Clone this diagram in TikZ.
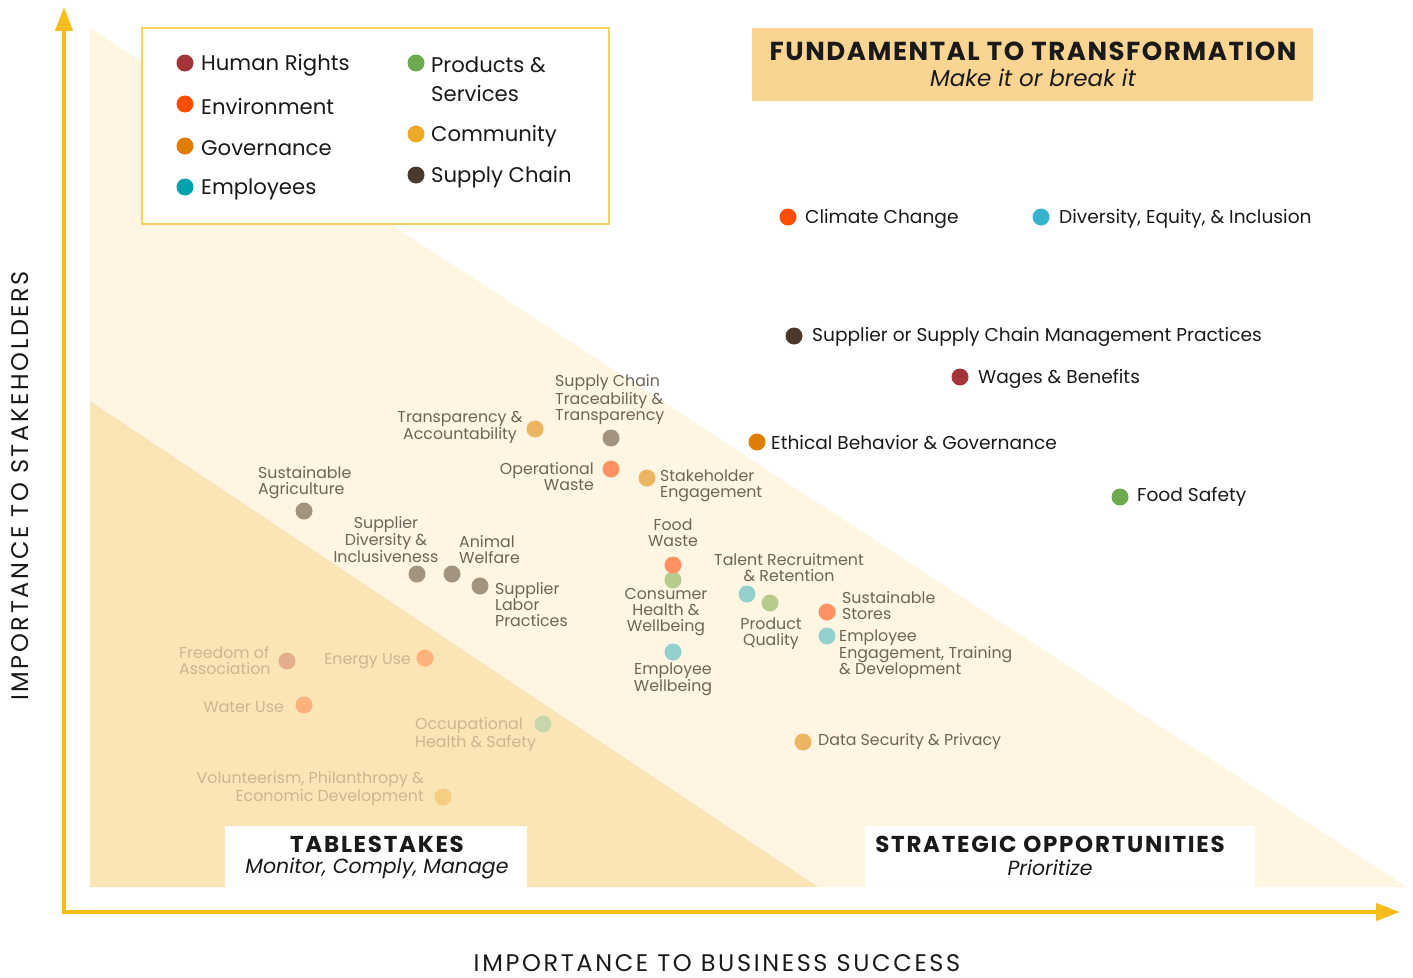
\documentclass[tikz,border=0pt]{standalone}
\usepackage{fontspec}
\setmainfont{Poppins}
\usetikzlibrary{arrows.meta}
\definecolor{axisc}{HTML}{F5BC1C}
\definecolor{legbord}{HTML}{F7D064}
\definecolor{titlebg}{HTML}{FAD592}
\definecolor{lightbg}{HTML}{FEF5E3}
\definecolor{darkbg}{HTML}{FBE5B7}
\definecolor{hr}{HTML}{A4343A}
\definecolor{env}{HTML}{FF4E00}
\definecolor{gov}{HTML}{E07C00}
\definecolor{emp}{HTML}{00A3AD}
\definecolor{emplight}{HTML}{35B2CC}
\definecolor{prod}{HTML}{6BAA4F}
\definecolor{comm}{HTML}{EDA82A}
\definecolor{sc}{HTML}{4B3A2B}
\definecolor{scF}{HTML}{A39480}
\definecolor{commF}{HTML}{EDB562}
\definecolor{envF}{HTML}{FF9163}
\definecolor{prodF}{HTML}{B7CB8C}
\definecolor{empF}{HTML}{93CFCC}
\definecolor{hrL}{HTML}{E3AE8C}
\definecolor{envL}{HTML}{FDB27B}
\definecolor{prodL}{HTML}{C8D6AC}
\definecolor{commL}{HTML}{F6CE80}
\definecolor{txtk}{HTML}{1A1A1A}
\definecolor{txtm}{HTML}{6D6557}
\definecolor{txtl}{HTML}{CDB68C}
\tikzset{
  dot/.style={circle, minimum size=17pt, inner sep=0pt, fill=#1},
  legtxt/.style={inner sep=0pt, text=txtk, font=\fontsize{21.2}{29}\selectfont, align=left},
  toptxt/.style={inner sep=0pt, text=txtk, font=\fontsize{18.6}{20}\selectfont},
  midtxt/.style={inner sep=0pt, text=txtm, font=\fontsize{15.8}{16}\selectfont},
  lowtxt/.style={inner sep=0pt, text=txtl, font=\fontsize{15.8}{16}\selectfont},
  axlab/.style={inner sep=0pt, text=txtk, font=\fontsize{24}{26}\selectfont\addfontfeatures{LetterSpace=11}},
  boxhead/.style={inner sep=0pt, text=txtk, font=\fontsize{23}{25}\selectfont\bfseries\addfontfeatures{LetterSpace=7.5}},
  boxsub/.style={inner sep=0pt, text=txtk, font=\fontsize{20.5}{23}\selectfont\itshape},
  axline/.style={draw=axisc, line width=4pt, -{Triangle[width=17pt,length=24pt]}},
}
\begin{document}
\begin{tikzpicture}[x=1pt,y=-1pt]
\useasboundingbox (0,0) rectangle (1413,977);
% background regions
\fill[lightbg] (90,28) -- (1407,887) -- (90,887) -- cycle;
\fill[darkbg] (90,401) -- (818,887) -- (90,887) -- cycle;
% axes
\coordinate (origin) at (64,912);
\coordinate (ytop) at (64,7);
\coordinate (xend) at (1400,912);
\draw[axline] (64,914) -- (ytop);
\draw[axline] (62,912) -- (xend);
\node[axlab, rotate=90] (ylab) at (20,486) {IMPORTANCE TO STAKEHOLDERS};
\node[axlab] (xlab) at (717,963) {IMPORTANCE TO BUSINESS SUCCESS};
% legend
\node[draw=legbord, line width=1.5pt, fill=white, minimum width=467pt, minimum height=196pt, inner sep=0pt] (legend) at (375.5,126) {};
\node[dot=hr] (lhr) at (185,63) {};
\node[legtxt, anchor=west] (lhrt) at (201,65.5) {Human Rights};
\node[dot=env] (lenv) at (185,104) {};
\node[legtxt, anchor=west] (lenvt) at (201,106.5) {Environment};
\node[dot=gov] (lgov) at (185,146) {};
\node[legtxt, anchor=west] (lgovt) at (201,148.5) {Governance};
\node[dot=emp] (lemp) at (185,187) {};
\node[legtxt, anchor=west] (lempt) at (201,189.5) {Employees};
\node[dot=prod] (lprod) at (416,63) {};
\node[legtxt, anchor=west] (lprodt) at (431,79.5) {Products \&\\Services};
\node[dot=comm] (lcomm) at (416,134) {};
\node[legtxt, anchor=west] (lcommt) at (431,136.5) {Community};
\node[dot=sc] (lsc) at (416,175) {};
\node[legtxt, anchor=west] (lsct) at (431,177.5) {Supply Chain};
% title box
\node[fill=titlebg, minimum width=561pt, minimum height=73pt, inner sep=0pt] (titlebox) at (1032.5,64.5) {};
\node[inner sep=0pt, font=\fontsize{26}{28}\selectfont\bfseries\addfontfeatures{LetterSpace=6}, text=txtk] (titlet) at (1033,51) {FUNDAMENTAL TO TRANSFORMATION};
\node[inner sep=0pt, font=\fontsize{23}{25}\selectfont\itshape, text=txtk] (titles) at (1033,78) {Make it or break it};
% bottom boxes
\node[fill=white, minimum width=302pt, minimum height=61pt, inner sep=0pt] (tsbox) at (376,856.5) {};
\node[boxhead] (tst) at (377,844) {TABLESTAKES};
\node[boxsub] (tss) at (377,868) {Monitor, Comply, Manage};
\node[fill=white, minimum width=390pt, minimum height=61pt, inner sep=0pt] (sobox) at (1060,856.5) {};
\node[boxhead] (sot) at (1050,844) {STRATEGIC OPPORTUNITIES};
\node[boxsub] (sos) at (1050,868) {Prioritize};
% top items
\node[dot=env] (cc) at (788,217) {};
\node[toptxt, anchor=west] (cct) at (805,219) {Climate Change};
\node[dot=emplight] (dei) at (1041,217) {};
\node[toptxt, anchor=west] (deit) at (1059,219) {Diversity, Equity, \& Inclusion};
\node[dot=sc] (scm) at (794,336) {};
\node[toptxt, anchor=west] (scmt) at (812,337) {Supplier or Supply Chain Management Practices};
\node[dot=hr] (wb) at (960,377) {};
\node[toptxt, anchor=west] (wbt) at (978,379) {Wages \& Benefits};
\node[dot=gov] (eth) at (757,442) {};
\node[toptxt, anchor=west] (etht) at (771,443) {Ethical Behavior \& Governance};
\node[dot=prod] (fs) at (1120,497) {};
\node[toptxt, anchor=west] (fst) at (1137,497) {Food Safety};
% middle items
\node[dot=scF] (sctt) at (611,438) {};
\node[midtxt, anchor=west, align=left] (scttt) at (555,399.5) {Supply Chain\\Traceability \&\\Transparency};
\node[dot=commF] (ta) at (535,429) {};
\node[midtxt, anchor=center, align=center] (tat) at (460,427.5) {Transparency \&\\Accountability};
\node[dot=envF] (ow) at (611,469) {};
\node[midtxt, anchor=east, align=right] (owt) at (594,477) {Operational\\Waste};
\node[dot=commF] (se) at (647,478) {};
\node[midtxt, anchor=west, align=left] (set) at (660,485.5) {Stakeholder\\Engagement};
\node[dot=scF] (sa) at (304,511) {};
\node[midtxt, anchor=west, align=left] (sat) at (258,482.5) {Sustainable\\Agriculture};
\node[dot=scF] (sdi) at (417,574) {};
\node[midtxt, anchor=center, align=center] (sdit) at (386,539.5) {Supplier\\Diversity \&\\Inclusiveness};
\node[dot=scF] (aw) at (452,574) {};
\node[midtxt, anchor=west, align=left] (awt) at (459,549.5) {Animal\\Welfare};
\node[dot=scF] (slp) at (480,586) {};
\node[midtxt, anchor=west, align=left] (slpt) at (495,604.5) {Supplier\\Labor\\Practices};
\node[dot=prodF] (chw) at (673,580) {};
\node[dot=envF] (fw) at (673,565) {};
\node[midtxt, anchor=center, align=center] (fwt) at (673,533) {Food\\Waste};
\node[midtxt, anchor=center, align=center] (chwt) at (666,612.5) {Consumer\\Health \&\\Wellbeing};
\node[dot=empF] (trr) at (747,594) {};
\node[midtxt, anchor=center, align=center] (trrt) at (789,567.5) {Talent Recruitment\\\& Retention};
\node[dot=prodF] (pq) at (770,603) {};
\node[midtxt, anchor=center, align=center] (pqt) at (771,633.5) {Product\\Quality};
\node[dot=envF] (ss) at (827,612) {};
\node[midtxt, anchor=west, align=left] (sst) at (842,605.5) {Sustainable\\Stores};
\node[dot=empF] (eetd) at (827,636) {};
\node[midtxt, anchor=west, align=left] (eetdt) at (839,654.5) {Employee\\Engagement, Training\\\& Development};
\node[dot=empF] (ew) at (673,652) {};
\node[midtxt, anchor=center, align=center] (ewt) at (673,679.5) {Employee\\Wellbeing};
\node[dot=commF] (dsp) at (803,742) {};
\node[midtxt, anchor=west] (dspt) at (818,742) {Data Security \& Privacy};
% low items
\node[dot=hrL] (foa) at (287,661) {};
\node[lowtxt, anchor=west, align=left] (foat) at (179,660.5) {Freedom of\\Association};
\node[dot=envL] (eu) at (425,658) {};
\node[lowtxt, anchor=east] (eut) at (411,661.5) {Energy Use};
\node[dot=envL] (wu) at (304,705) {};
\node[lowtxt, anchor=east] (wut) at (284,707.5) {Water Use};
\node[dot=prodL] (ohs) at (543,724) {};
\node[lowtxt, anchor=west, align=left] (ohst) at (415,734.5) {Occupational\\Health \& Safety};
\node[dot=commL] (vped) at (443,797) {};
\node[lowtxt, anchor=east, align=right] (vpedt) at (424,788.5) {Volunteerism, Philanthropy \&\\Economic Development};
\end{tikzpicture}
\end{document}
